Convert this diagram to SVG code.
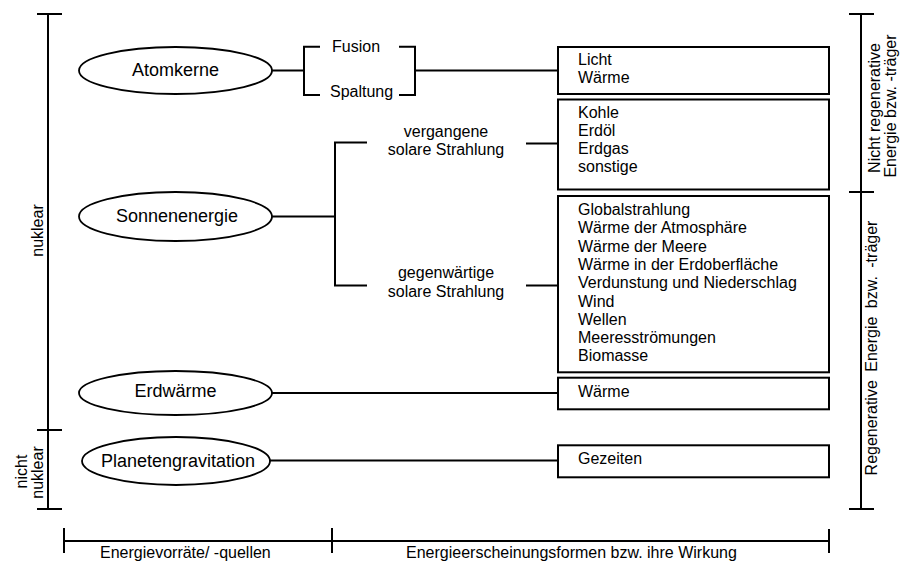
<svg xmlns="http://www.w3.org/2000/svg" width="900" height="562" viewBox="0 0 900 562">
  <style>
    text { font-family: "Liberation Sans", Arial, sans-serif; fill: #000; }
    .src { font-size: 18px; text-anchor: middle; }
    .lbl { font-size: 16px; }
    .mid { text-anchor: middle; }
    .oval { fill: #fff; stroke: #000; stroke-width: 1.8; }
    .box { fill: #fff; stroke: #000; stroke-width: 2; }
    .ln { fill: none; stroke: #000; stroke-width: 2; }
  </style>
  <rect width="900" height="562" fill="#fff"/>

  <!-- scales and brackets -->
  <g id="scales" class="ln">
    <path class="ln" d="M48 14V509 M37 14H62 M37 430H62 M37 509H62"/>
    <path class="ln" d="M861 14V509 M849 14H874 M849 192H874 M849 509H874"/>
    <path class="ln" d="M64 541H829 M64 528V553 M332 528V553 M829 529V553"/>
  </g>
  <g id="scale-labels" class="lbl">
    <text transform="translate(42.5,230.5) rotate(-90)" class="mid">nuklear</text>
    <text transform="translate(27,471.5) rotate(-90)" class="mid">nicht</text>
    <text transform="translate(42.5,472.5) rotate(-90)" class="mid">nuklear</text>
    <text transform="translate(879.5,108) rotate(-90)" class="mid">Nicht regenerative</text>
    <text transform="translate(895.5,106) rotate(-90)" class="mid">Energie bzw. -träger</text>
    <text transform="translate(877,348) rotate(-90)" class="mid" word-spacing="4">Regenerative Energie bzw. -träger</text>
    <text x="100" y="558">Energievorräte/ -quellen</text>
    <text x="406" y="558">Energieerscheinungsformen bzw. ihre Wirkung</text>
  </g>

  <!-- connectors -->
  <g id="connectors" class="ln">
    <path class="ln" d="M272 70.5H304 M320 46.7H304V95H320 M399 46.7H415V95H399 M415 70.5H558"/>
    <path class="ln" d="M272 216.5H335 M367 142.5H335V285.5H367 M526 143.5H558 M526 285.5H558"/>
    <path class="ln" d="M272 393H558"/>
    <path class="ln" d="M270 460.5H558"/>
  </g>

  <!-- intermediate labels -->
  <g id="branch-labels" class="lbl">
    <text x="332" y="52.3">Fusion</text>
    <text x="330" y="97">Spaltung</text>
    <text x="446" y="137" class="mid">vergangene</text>
    <text x="446" y="155" class="mid">solare Strahlung</text>
    <text x="446" y="278" class="mid">gegenwärtige</text>
    <text x="446" y="297" class="mid">solare Strahlung</text>
  </g>

  <!-- source nodes -->
  <g id="atomkerne">
    <ellipse class="oval" cx="175.5" cy="70.5" rx="96.5" ry="23.5"/>
    <text class="src" x="175.5" y="75.5">Atomkerne</text>
  </g>
  <g id="sonnenenergie">
    <ellipse class="oval" cx="175.5" cy="216.5" rx="96.5" ry="24.5"/>
    <text class="src" x="177" y="222">Sonnenenergie</text>
  </g>
  <g id="erdwaerme">
    <ellipse class="oval" cx="175.5" cy="393" rx="96.5" ry="22"/>
    <text class="src" x="175.5" y="397">Erdwärme</text>
  </g>
  <g id="planetengravitation">
    <ellipse class="oval" cx="176" cy="461" rx="94" ry="24"/>
    <text class="src" x="178" y="467">Planetengravitation</text>
  </g>

  <!-- result boxes -->
  <g id="box-kern" class="lbl">
    <rect class="box" x="558" y="47" width="271" height="47"/>
    <text x="578" y="65">Licht</text>
    <text x="578" y="83">Wärme</text>
  </g>
  <g id="box-fossil" class="lbl">
    <rect class="box" x="558" y="99.5" width="271" height="90"/>
    <text x="578" y="117.5">Kohle</text>
    <text x="578" y="135.7">Erdöl</text>
    <text x="578" y="153.9">Erdgas</text>
    <text x="578" y="172.1">sonstige</text>
  </g>
  <g id="box-solar" class="lbl">
    <rect class="box" x="558" y="196" width="271" height="176.3"/>
    <text x="578" y="215">Globalstrahlung</text>
    <text x="578" y="233.3">Wärme der Atmosphäre</text>
    <text x="578" y="251.6">Wärme der Meere</text>
    <text x="578" y="269.9">Wärme in der Erdoberfläche</text>
    <text x="578" y="288.2">Verdunstung und Niederschlag</text>
    <text x="578" y="306.5">Wind</text>
    <text x="578" y="324.8">Wellen</text>
    <text x="578" y="343.1">Meeresströmungen</text>
    <text x="578" y="361.4">Biomasse</text>
  </g>
  <g id="box-geo" class="lbl">
    <rect class="box" x="558" y="377.7" width="271" height="31.6"/>
    <text x="578" y="396.7">Wärme</text>
  </g>
  <g id="box-gezeiten" class="lbl">
    <rect class="box" x="558" y="445.3" width="271" height="32"/>
    <text x="578" y="464.3">Gezeiten</text>
  </g>
</svg>
